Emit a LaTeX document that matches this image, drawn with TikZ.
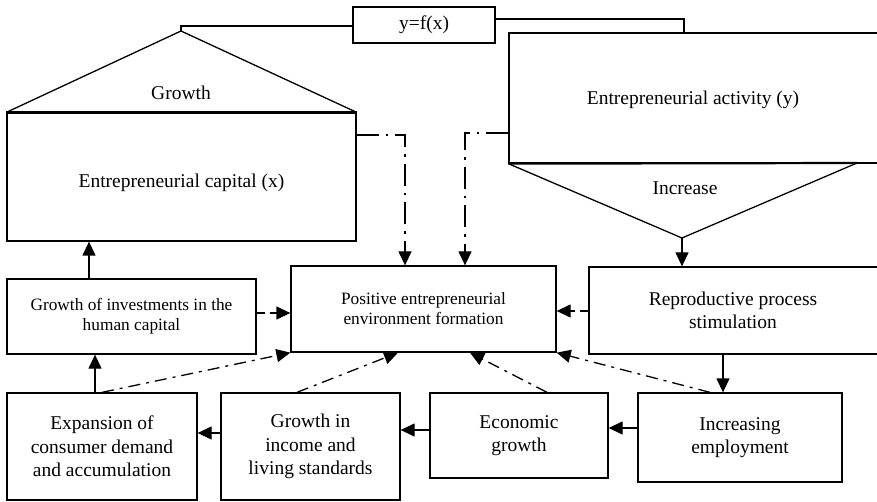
\documentclass[tikz,border=0pt]{standalone}
\usepackage{fontspec}
\setmainfont{Liberation Serif}
\usetikzlibrary{arrows.meta}
\begin{document}
\begin{tikzpicture}[x=1pt,y=-1pt,
  box/.style={draw,line width=1.3pt,align=center,inner sep=0pt,font=\fontsize{19.5}{23.3}\selectfont},
  sbox/.style={box,font=\fontsize{17.3}{20}\selectfont},
  lbl/.style={align=center,inner sep=0pt,font=\fontsize{19.5}{23.3}\selectfont},
  arr/.style={line width=1.3pt,-{Triangle[length=14pt,width=13pt]}},
  ddv/.style={line width=2.4pt,dash pattern=on 22pt off 7pt on 2.5pt off 7pt},
  dd/.style={line width=2.4pt,dash pattern=on 12pt off 6pt on 3pt off 6pt},
  dsh/.style={line width=2.4pt,dash pattern=on 8pt off 5pt}]
\useasboundingbox (0,0) rectangle (877,502);
% boxes
\node[box,minimum width=142pt,minimum height=36pt] (yfx) at (424,25) {y=f(x)};
\node[box,minimum width=349pt,minimum height=128pt] (cap) at (181.5,177) {};
\node[lbl] at (181.5,183) {Entrepreneurial capital (x)};
\node[box,minimum width=370pt,minimum height=130pt] (act) at (694,98) {};
\node[lbl] at (693,100) {Entrepreneurial activity (y)};
\node[sbox,minimum width=265pt,minimum height=86pt] (pos) at (423.5,309) {Positive entrepreneurial\\environment formation};
\node[box,minimum width=290pt,minimum height=87pt] (repr) at (734,310.5) {};
\node[lbl] at (733,310) {Reproductive process\\stimulation};
\node[sbox,minimum width=249pt,minimum height=75pt] (gi) at (131.5,316.5) {Growth of investments in the\\human capital};
\node[box,minimum width=190pt,minimum height=107pt] (exp) at (102,446.5) {Expansion of\\consumer demand\\and accumulation};
\node[box,minimum width=179pt,minimum height=107pt] (inc) at (310.5,446.5) {Growth in\\income and\\living standards};
\node[box,minimum width=178pt,minimum height=85pt] (eco) at (519,435.5) {Economic\\growth};
\node[box,minimum width=204pt,minimum height=89pt] (emp) at (740,437.5) {Increasing\\employment};
% triangles
\coordinate (gapex) at (181,31);
\coordinate (iapex) at (682,238);
\draw[line width=1.3pt] (cap.north west) -- (gapex) -- (cap.north east);
\draw[line width=2.2pt] (cap.north west) -- (cap.north east);
\node[lbl] at (181,93) {Growth};
\draw[line width=1.3pt] (act.south west) -- (iapex) -- (857,163);
\draw[line width=2.2pt] (act.south west) -- (857,163);
\node[lbl] at (685,188) {Increase};
% top links
\draw[line width=2pt] (yfx.west |- 0,26) -| (gapex);
\draw[line width=1.3pt] (yfx.east |- 0,19) -| (act.north -| 684,0);
% dash-dot feeds into positive
\draw[ddv,arr] (cap.east |- 0,135) -| (pos.north -| 405,0);
\draw[ddv,arr] (act.west |- 0,133) -| (pos.north -| 465,0);
% solid arrows
\draw[arr] (iapex) -- (repr.north -| iapex);
\draw[arr] (repr.south -| 723,0) -- (emp.north -| 723,0);
\draw[arr] (emp.west |- 0,428) -- (eco.east |- 0,428);
\draw[arr] (eco.west |- 0,430) -- (inc.east |- 0,430);
\draw[arr] (inc.west |- 0,433) -- (exp.east |- 0,433);
\draw[arr] (exp.north -| 95,0) -- (gi.south -| 95,0);
\draw[arr] (gi.north -| 89,0) -- (cap.south -| 89,0);
% dashed
\draw[dsh,arr] (repr.west |- 0,311) -- (pos.east |- 0,311);
\draw[dsh,arr] (gi.east |- 0,313) -- (pos.west |- 0,313);
% dash-dot diagonals
\draw[dd,arr] (exp.north -| 102,0) -- (pos.south west);
\draw[dd,arr] (inc.north -| 297,0) -- (pos.south -| 398,0);
\draw[dd,arr] (eco.north -| 547,0) -- (pos.south -| 470,0);
\draw[dd,arr] (emp.north -| 710,0) -- (pos.south east);
\end{tikzpicture}
\end{document}
